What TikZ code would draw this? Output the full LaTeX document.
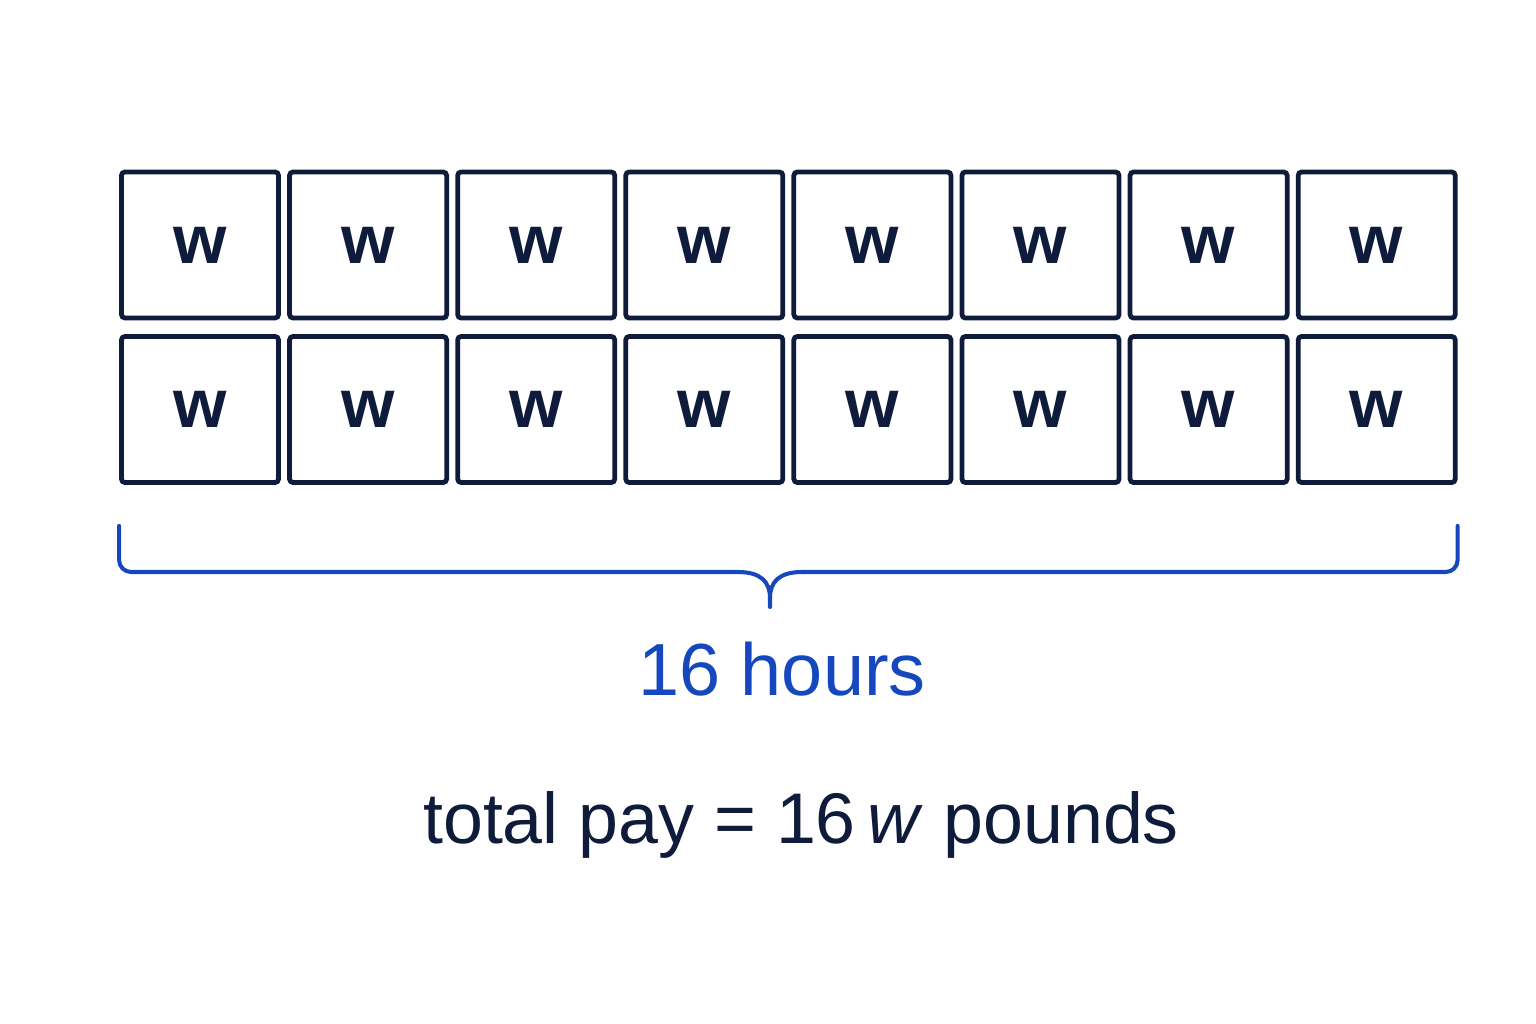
\documentclass[tikz,border=0pt]{standalone}
\usepackage{fontspec}
\setmainfont{Liberation Sans}
\usetikzlibrary{calc}

\definecolor{inkNavy}{HTML}{0F1B3A}
\definecolor{braceBlue}{HTML}{1547BF}

\begin{document}
\begin{tikzpicture}[x=0.01cm, y=-0.01cm,
				      every node/.style={align=center, inner sep=0pt},
				      wageCell/.style={
						      draw=inkNavy, line width=1.35pt, rounded corners=1pt,
						      minimum width=1.57cm, minimum height=1.46cm,
						      text=inkNavy, font=\fontsize{19.5}{22}\selectfont
					      },
				      braceLine/.style={draw=braceBlue, line width=1.15pt, line cap=round},
				      hoursLabel/.style={text=braceBlue, font=\fontsize{21}{25}\selectfont},
				      payLabel/.style={text=inkNavy, font=\fontsize{20.4}{24}\selectfont}
			      ]
			      \useasboundingbox (0,0) rectangle (1536,1024);

			      % two rows of eight hourly cells
			      \foreach \row/\ycen in {1/245, 2/409.5} {
					      \foreach \col in {1,...,8} {
							      \node[wageCell] (cell-\row-\col) at ({200+(\col-1)*168.1}, \ycen) {\textbf{w}};
						      }
				      }

			      % brace under the cells
			      \coordinate (braceL) at ($(cell-2-1.south west)+(0,41)$);
			      \coordinate (braceR) at ($(cell-2-8.south east)+(0,41)$);
			      \coordinate (braceTip) at (770,607);
			      \draw[braceLine, rounded corners=3.4pt] (braceL) -- (braceL |- 0,572) -- (738,572);
			      \draw[braceLine, rounded corners=3.4pt] (braceR) -- (braceR |- 0,572) -- (802,572);
			      \draw[braceLine] (738,572) .. controls (761,572) and (770,582) .. (770,598) -- (braceTip);
			      \draw[braceLine] (802,572) .. controls (779,572) and (770,582) .. (770,598);

			      \node[hoursLabel, anchor=base] (hours) at (782,695) {16 hours};
			      \node[payLabel, anchor=base] (pay) at (801,843) {total pay = 16\,\textit{w} pounds};
		      \end{tikzpicture}
\end{document}
